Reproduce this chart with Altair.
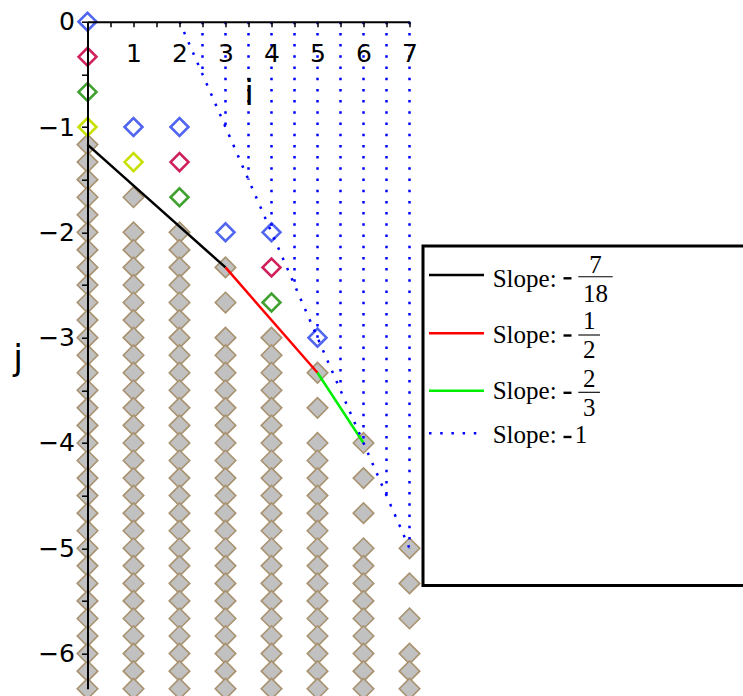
import altair as alt
import pandas as pd

# ---------------------------------------------------------------- data
# Dense grey runs: one per column, first value, then every sixth down to the floor
run_i = [0, 1, 2, 3, 4, 5, 6, 7]
run_start = [-7/6, -2, -2, -3, -3, -4, -5, -6]
run_step = 1/6
j_floor = -19/3

# Isolated grey markers above each dense run
grey_i = [1, 3, 3, 5, 5, 6, 6, 6, 7, 7, 7]
grey_j = [-5/3, -7/3, -8/3, -10/3, -11/3, -4, -13/3, -14/3, -5, -16/3, -17/3]

# Hollow markers by colour
blue_i = [0, 1, 2, 3, 4, 5]
blue_j = [0, -1, -1, -2, -2, -3]
crimson_i = [0, 2, 4]
crimson_j = [-1/3, -4/3, -7/3]
green_i = [0, 2, 4]
green_j = [-2/3, -5/3, -8/3]
yellow_i = [0, 1]
yellow_j = [-1, -4/3]

# Lower boundary: vertices joined by the black, red and green segments
hull_i = [0, 3, 5, 6]
hull_j = [-7/6, -7/3, -10/3, -4]
hull_colors = ["#000000", "#ff0000", "#00ee00"]

# Slope -1 guide: diagonal plus vertical hatching down to it
diag_i = [2, 7]
diag_j = [0, -5]
hatch_i = [2.5, 3, 3.5, 4, 4.5, 5, 5.5, 6, 6.5, 7]
hatch_low = [-0.5, -1, -1.5, -2, -2.5, -3, -3.5, -4, -4.5, -5]

# Legend entries: (numerator, denominator) of each slope
legend_num = ["7", "1", "2", "1"]
legend_den = ["18", "2", "3", ""]

x_ticks = [k / 2 for k in range(0, 15)]
y_ticks = [-k / 2 for k in range(0, 13)]

# ---------------------------------------------------------------- tables
run_rows = []
for c, s in zip(run_i, run_start):
    n = round((s - j_floor) / run_step) + 1
    for k in range(n):
        run_rows.append({"i": c, "j": s - k * run_step})
grey_df = pd.concat([pd.DataFrame(run_rows),
                     pd.DataFrame({"i": grey_i, "j": grey_j})], ignore_index=True)

hollow_sets = [
    (blue_i, blue_j, "#5065f0"),
    (crimson_i, crimson_j, "#d0205a"),
    (green_i, green_j, "#40a030"),
    (yellow_i, yellow_j, "#c8e000"),
]

diag_df = pd.DataFrame({"i": diag_i, "j": diag_j})
hatch_df = pd.DataFrame({"i": hatch_i, "j": [0] * len(hatch_i), "j2": hatch_low})
one = pd.DataFrame({"k": [0]})

# ---------------------------------------------------------------- layout
X0, Y0 = 87.5, 21.7          # page position of the origin
W, H = 322, 667              # plot area
FW, FH = 743, 696

def px(x):
    return x - X0

def py(y):
    return y - Y0

SANS = "DejaVu Sans"
SERIF = "Liberation Serif"

x_enc = alt.X(
    "i:Q",
    scale=alt.Scale(domain=[0, 7], nice=False, zero=False),
    axis=alt.Axis(
        orient="bottom", offset=-H, values=x_ticks, format=".0f",
        labelExpr="datum.value > 0 && datum.value % 1 === 0 ? datum.label : ''",
        grid=False, domainColor="black", domainWidth=2,
        tickColor="black", tickWidth=1.5, tickSize=5,
        labelFont=SANS, labelFontSize=25, labelColor="black",
        labelBaseline="alphabetic", labelPadding=35,
        labelFlush=False, labelOverlap=False,
        title="i", titleFont=SANS, titleFontSize=35, titleFontWeight="normal",
        titleColor="black", titleX=161, titleY=83, titleAlign="center",
        titleBaseline="alphabetic", zindex=1,
    ),
)
y_enc = alt.Y(
    "j:Q",
    scale=alt.Scale(domain=[j_floor, 0], nice=False, zero=False),
    axis=alt.Axis(
        orient="left", values=y_ticks, format=".0f",
        labelExpr="datum.value % 1 === 0 ? datum.label : ''",
        grid=False, domainColor="black", domainWidth=2,
        tickColor="black", tickWidth=1.5, tickSize=6,
        labelFont=SANS, labelFontSize=25, labelColor="black",
        labelBaseline="middle", labelPadding=7,
        labelFlush=False, labelOverlap=False,
        title="j", titleFont=SANS, titleFontSize=35, titleFontWeight="normal",
        titleColor="black", titleAngle=0, titleX=-70, titleY=348,
        titleAlign="center", titleBaseline="alphabetic", zindex=1,
    ),
)

# ---------------------------------------------------------------- marks
grey = alt.Chart(grey_df).mark_point(
    shape="diamond", filled=True, fill="#c1c1c1", stroke="#a8926f",
    strokeWidth=1.6, size=420, opacity=1,
).encode(x=x_enc, y=y_enc)

hollow = [
    alt.Chart(pd.DataFrame({"i": hi, "j": hj})).mark_point(
        shape="diamond", filled=False, color=col, strokeWidth=2.6, size=320, opacity=1,
    ).encode(x=x_enc, y=y_enc)
    for hi, hj, col in hollow_sets
]

hull = [
    alt.Chart(pd.DataFrame({"i": hull_i[n:n + 2], "j": hull_j[n:n + 2]})).mark_line(
        color=hull_colors[n], strokeWidth=2.5,
    ).encode(x=x_enc, y=y_enc)
    for n in range(3)
]

DOT_COLOR = "#0000ff"
DOT_WIDTH = 2.5
DOT_DASH = [2.5, 8.7]
diag = alt.Chart(diag_df).mark_line(
    color=DOT_COLOR, strokeWidth=DOT_WIDTH, strokeDash=DOT_DASH, strokeCap="butt",
).encode(x=x_enc, y=y_enc)
hatch = alt.Chart(hatch_df).mark_rule(
    color=DOT_COLOR, strokeWidth=DOT_WIDTH, strokeDash=DOT_DASH, strokeCap="butt",
).encode(x=x_enc, y=y_enc, y2="j2:Q")

# ---------------------------------------------------------------- legend
def text(s, x, y, size=25, align="left", font=SERIF, weight="normal"):
    return alt.Chart(one).mark_text(
        text=s, align=align, baseline="alphabetic", font=font,
        fontSize=size, fontWeight=weight, color="black",
    ).encode(x=alt.value(px(x)), y=alt.value(py(y)))

def hrule(x1, x2, y, color="black", width=1.2, dash=None):
    props = dict(color=color, strokeWidth=width, strokeCap="butt")
    if dash:
        props["strokeDash"] = dash
    return alt.Chart(one).mark_rule(**props).encode(
        x=alt.value(px(x1)), x2=alt.value(px(x2)), y=alt.value(py(y)))

legend = [
    alt.Chart(one).mark_rect(fill="white", stroke="black", strokeWidth=3).encode(
        x=alt.value(px(423)), x2=alt.value(px(780)),
        y=alt.value(py(246)), y2=alt.value(py(585.5))),
]
sample_y = [275, 333.3, 390.7, 433.3]
text_base = [286.7, 342.7, 399.3, 443.3]
bar_y = [276.7, 335, 392.3]
bar_x2 = [612.7, 600, 600]
num_base = [273.3, 329.3, 386.7]
den_base = [301.7, 358.3, 415.7]
minus_y = [278.3, 335.5, 392.8, 437]

for n in range(3):
    legend.append(hrule(429, 484, sample_y[n], color=hull_colors[n], width=2.4))
    legend.append(text("Slope:", 492.7, text_base[n]))
    legend.append(hrule(563.5, 571.5, minus_y[n], width=2.4))
    cx = (578.3 + bar_x2[n]) / 2
    legend.append(hrule(578.3, bar_x2[n], bar_y[n], width=1.1))
    legend.append(text(legend_num[n], cx, num_base[n], align="center"))
    legend.append(text(legend_den[n], cx, den_base[n], align="center"))

legend.append(hrule(429, 478, sample_y[3], color=DOT_COLOR, width=DOT_WIDTH, dash=DOT_DASH))
legend.append(text("Slope:", 492.7, text_base[3]))
legend.append(hrule(563.5, 571.5, minus_y[3], width=2.4))
legend.append(text(legend_num[3], 581, text_base[3], align="center"))

chart = alt.layer(grey, *hollow, *hull, diag, hatch, *legend).properties(
    width=W, height=H,
    autosize=alt.AutoSizeParams(type="none"),
    padding={"left": X0, "top": Y0, "right": FW - X0 - W, "bottom": FH - Y0 - H},
    background="white",
).configure_view(stroke=None)

chart.save("out.html", embed_options={"renderer": "svg", "actions": False})
